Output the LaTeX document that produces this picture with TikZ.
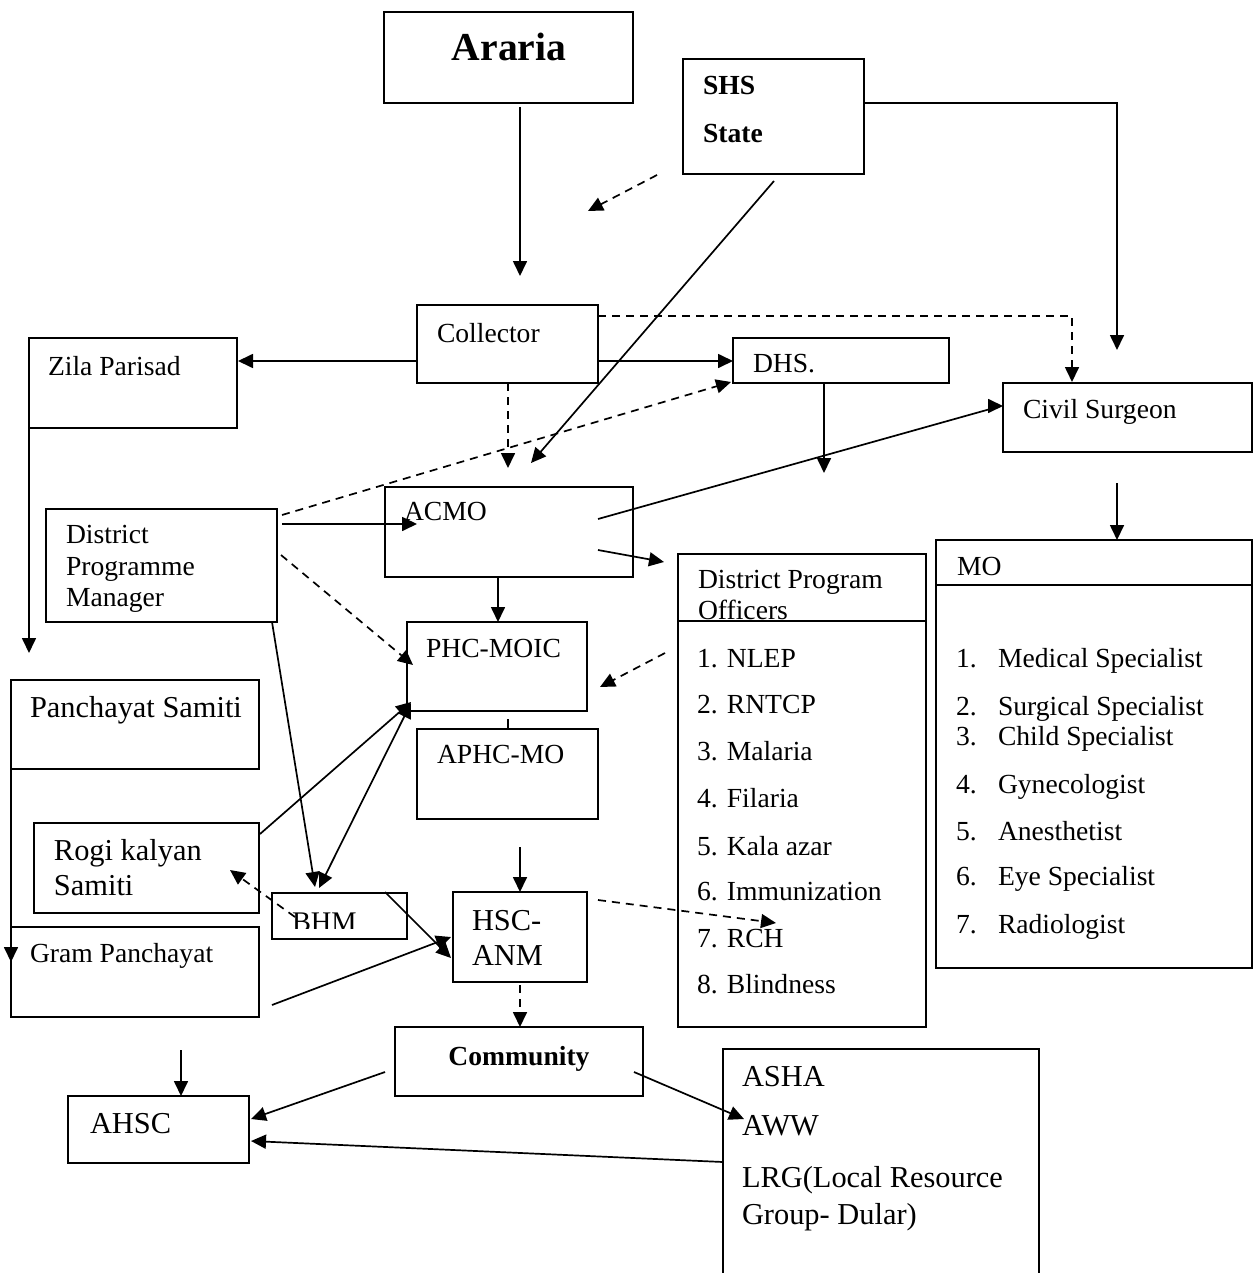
\documentclass[tikz,border=0pt]{standalone}
\usepackage{fontspec}
\setmainfont{Liberation Serif}
\usetikzlibrary{arrows.meta}
\newcommand\fnorm{\fontsize{13.8pt}{16pt}\selectfont}
\newcommand\fbig{\fontsize{15.2pt}{17pt}\selectfont}
\newcommand\fhuge{\fontsize{19.8pt}{22pt}\selectfont\bfseries}
\newcommand\mkbox[6][]{\node[bx,#1,minimum width={(#5-#3)*0.5pt},minimum height={(#6-#4)*0.5pt}] (#2) at ({(#3+#5)/2},{(#4+#6)/2}) {};}
\tikzset{
  bx/.style={draw,line width=1.2pt,inner sep=0pt,outer sep=0pt,rectangle},
  txt/.style={inner sep=0pt,outer sep=0pt,anchor=base west,font=\fnorm},
  btxt/.style={txt,font=\fbig},
  conn/.style={line width=0.85pt},
  tip/.tip={Triangle[length=7.5pt,width=7pt]},
  arr/.style={conn,-tip},
  darr/.style={arr,dash pattern=on 4pt off 3pt},
}
\begin{document}
\begin{tikzpicture}[x=0.5pt,y=-0.5pt]
\useasboundingbox (0,0) rectangle (1257,1273);
% boxes
\mkbox{araria}{384}{12}{633}{103}
\mkbox{shs}{683}{59}{864}{174}
\mkbox{col}{417}{305}{598}{383}
\mkbox{zila}{29}{338}{237}{428}
\mkbox{dhs}{733}{338}{949}{383}
\mkbox{civ}{1003}{383}{1252}{452}
\mkbox{acmo}{385}{487}{633}{577}
\mkbox{dpm}{46}{509}{277}{622}
\mkbox{phc}{407}{622}{587}{711}
\mkbox{aphc}{417}{729}{598}{819}
\mkbox{pan}{11}{680}{259}{769}
\mkbox{rogi}{34}{823}{259}{913}
\mkbox{bhm}{272}{893}{407}{939}
\mkbox{hsc}{453}{892}{587}{982}
\mkbox{gram}{11}{927}{259}{1017}
\mkbox{comm}{395}{1027}{643}{1096}
\mkbox{ahsc}{68}{1096}{249}{1163}
\mkbox{dpo}{678}{554}{926}{1027}
\mkbox{mo}{936}{540}{1252}{968}
\mkbox[draw=none]{asha}{723}{1049}{1039}{1273}
\draw[line width=1.2pt] (asha.south west) -- (asha.north west) -- (asha.north east) -- (asha.south east);
\draw[line width=1.2pt] (dpo.west |- 0,621) -- (dpo.east |- 0,621);
\draw[line width=1.2pt] (mo.west |- 0,585) -- (mo.east |- 0,585);
% texts
\node[txt,anchor=base,font=\fhuge] (t-araria) at (509,61) {Araria};
\node[txt,font=\fnorm\bfseries] (t-shs) at (703,95) {SHS};
\node[txt,font=\fnorm\bfseries] (t-state) at (703,143) {State};
\node[txt] (t-col) at (437,342) {Collector};
\node[txt] (t-zila) at (48,375) {Zila Parisad};
\node[txt] (t-dhs) at (753,372) {DHS.};
\node[txt] (t-civ) at (1023,418) {Civil Surgeon};
\node[txt] (t-acmo) at (404,520) {ACMO};
\node[txt] (t-dpm1) at (66,543) {District};
\node[txt] (t-dpm2) at (66,575) {Programme};
\node[txt] (t-dpm3) at (66,606) {Manager};
\node[txt] (t-phc) at (426,657) {PHC-MOIC};
\node[txt] (t-aphc) at (437,763) {APHC-MO};
\node[btxt] (t-pan) at (30,717) {Panchayat Samiti};
\node[btxt] (t-rogi1) at (54,860) {Rogi kalyan};
\node[btxt] (t-rogi2) at (54,895) {Samiti};
\begin{scope}
\clip (272,893) rectangle (407,928);
\node[txt,font=\fontsize{14.2pt}{16pt}\selectfont] (t-bhm) at (292,931) {BHM};
\end{scope}
\node[btxt] (t-hsc1) at (472,930) {HSC-};
\node[btxt] (t-hsc2) at (472,965) {ANM};
\node[txt] (t-gram) at (30,962) {Gram Panchayat};
\node[txt,anchor=base,font=\fnorm\bfseries] (t-comm) at (519,1065) {Community};
\node[btxt] (t-ahsc) at (90,1133) {AHSC};
\node[btxt] (t-asha1) at (742,1086) {ASHA};
\node[btxt] (t-asha2) at (742,1135) {AWW};
\node[btxt] (t-asha3) at (742,1187) {LRG(Local Resource};
\node[btxt] (t-asha4) at (742,1224) {Group- Dular)};
\node[txt] (t-dpo1) at (698,588) {District Program};
\node[txt] (t-dpo2) at (698,619) {Officers};
\node[txt] (t-p1) at (697,667) {1. NLEP};
\node[txt] (t-p2) at (697,713) {2. RNTCP};
\node[txt] (t-p3) at (697,760) {3. Malaria};
\node[txt] (t-p4) at (697,807) {4. Filaria};
\node[txt] (t-p5) at (697,855) {5. Kala azar};
\node[txt] (t-p6) at (697,900) {6. Immunization};
\node[txt] (t-p7) at (697,947) {7. RCH};
\node[txt] (t-p8) at (697,993) {8. Blindness};
\node[txt] (t-mo) at (957,575) {MO};
\foreach \n/\y/\s in {1/667/Medical Specialist,2/715/Surgical Specialist,3/745/Child Specialist,4/793/Gynecologist,5/840/Anesthetist,6/885/Eye Specialist,7/933/Radiologist}{
  \node[txt] (t-mn\n) at (956,\y) {\n.};
  \node[txt] (t-ms\n) at (998,\y) {\s};
}
% connector end points
\coordinate (a1) at (520,107);   \coordinate (a2) at (520,276);
\coordinate (s1) at (657,175);   \coordinate (s2) at (588,211);
\coordinate (s3) at (774,181);   \coordinate (s4) at (531,463);
\coordinate (s5) at (1117,350);
\coordinate (cz) at (238,361);
\coordinate (cv) at (1072,382);
\coordinate (cd) at (508,468);
\coordinate (pd) at (731,382);
\coordinate (pa) at (417,524);
\coordinate (pp) at (413,665);
\coordinate (pb) at (315,887);
\coordinate (ac1) at (598,519);  \coordinate (ac2) at (1001,406);
\coordinate (ac3) at (598,550);  \coordinate (ac4) at (664,562);
\coordinate (dh) at (824,473);
\coordinate (cm1) at (1117,483);
\coordinate (do1) at (665,653);  \coordinate (do2) at (600,687);
\coordinate (zp) at (29,653);
\coordinate (ps1) at (11,762);   \coordinate (ps2) at (11,962);
\coordinate (rg1) at (260,834);  \coordinate (rg2) at (411,702);
\coordinate (bh1) at (319,888);  \coordinate (bh2) at (411,703);
\coordinate (bh3) at (295,917);  \coordinate (bh4) at (230,870);
\coordinate (bh5) at (385,892);  \coordinate (bh6) at (451,958);
\coordinate (gp1) at (272,1005); \coordinate (gp2) at (451,937);
\coordinate (ap1) at (520,847);
\coordinate (hs1) at (598,900);  \coordinate (hs2) at (776,923);
\coordinate (co1) at (385,1072); \coordinate (co2) at (251,1119);
\coordinate (co3) at (634,1072); \coordinate (co4) at (744,1119);
\coordinate (as1) at (723,1162); \coordinate (as2) at (251,1141);
\coordinate (ah1) at (181,1050);
% connectors
\draw[arr] (a1) -- (a2);
\draw[darr] (s1) -- (s2);
\draw[arr] (s3) -- (s4);
\draw[arr] (shs.east |- 0,103) -- (1117,103) -- (s5);
\draw[arr] (col.west |- cz) -- (cz);
\draw[arr] (col.east |- 0,361) -- (dhs.west |- 0,361);
\draw[darr] (col.east |- 0,316) -- (cv |- 0,316) -- (cv);
\draw[darr] (col.south -| cd) -- (cd);
\draw[darr] (dpm.east |- 0,515) ++(5,0) -- (pd);
\draw[arr] (282,524) -- (pa);
\draw[darr] (281,555) -- (pp);
\draw[arr] (dpm.south -| 272,0) -- (pb);
\draw[conn] (ac1) -- (ac2);
\draw[arr] (ac2) ++(-1,0) -- (civ.west |- ac2);
\draw[arr] (ac3) -- (ac4);
\draw[arr] (acmo.south -| 498,0) -- (phc.north -| 498,0);
\draw[arr] (dhs.south -| dh) -- (dh);
\draw[arr] (cm1) -- (mo.north -| cm1);
\draw[darr] (do1) -- (do2);
\draw[conn] (508,719) -- (aphc.north -| 508,0);
\draw[arr] (zila.south west) -- (zp);
\draw[arr] (ps1) -- (ps2);
\draw[arr] (rg1) -- (rg2);
\draw[conn,tip-tip] (bh1) -- (bh2);
\draw[darr] (bh3) -- (bh4);
\draw[arr] (bh5) -- (bh6);
\draw[arr] (gp1) -- (gp2);
\draw[arr] (ap1) -- (hsc.north -| ap1);
\draw[darr] (hs1) -- (hs2);
\draw[darr] (hsc.south -| ap1) ++(0,3) -- (comm.north -| ap1);
\draw[arr] (co1) -- (co2);
\draw[arr] (co3) -- (co4);
\draw[arr] (as1) -- (as2);
\draw[arr] (ah1) -- (ahsc.north -| ah1);
\end{tikzpicture}
\end{document}
